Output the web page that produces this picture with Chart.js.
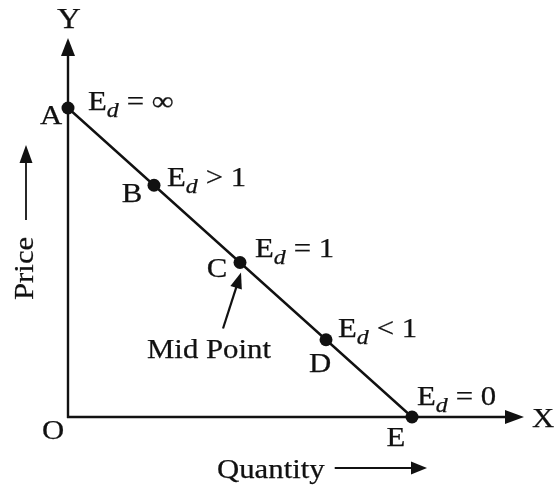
<!DOCTYPE html>
<html>
<head>
<meta charset="utf-8">
<script src="https://cdn.jsdelivr.net/npm/chart.js@4/dist/chart.umd.min.js"></script>
<style>
  html, body { margin: 0; padding: 0; background: #fff; }
  canvas { display: block; }
</style>
</head>
<body>
<canvas id="myChart" width="556" height="486"></canvas>
<script>
// demand line points A..E
const pointNames = ['A', 'B', 'C', 'D', 'E'];
const quantity = [0, 1, 2, 3, 4];
const price = [4, 3, 2, 1, 0];
const elasticity = ['= \u221E', '> 1', '= 1', '< 1', '= 0'];

const INK = '#111';
const SERIF = '"Liberation Serif", "Times New Roman", serif';
const HS = 1.14; // horizontal stretch of the lettering

// where each letter / E_d label sits relative to its point
const letterOffset = [[-17, 16], [-22, 17], [-23, 15], [-6, 32], [-16, 29]];
const edOffset = [[20, 2], [13, 1], [15, -5], [12, -3], [5, -12]];

function drawText(ctx, text, x, y, font, align) {
    ctx.font = font;
    const w = ctx.measureText(text).width * HS;
    let x0 = x;
    if (align === 'center') x0 = x - w / 2;
    ctx.save();
    ctx.translate(x0, y);
    ctx.scale(HS, 1);
    ctx.textAlign = 'left';
    ctx.textBaseline = 'alphabetic';
    ctx.lineWidth = 0.25;
    ctx.lineJoin = 'round';
    ctx.fillText(text, 0, 0);
    ctx.strokeText(text, 0, 0);
    ctx.restore();
    return w;
}

function arrowHead(ctx, tx, ty, angle, len, half) {
    ctx.save();
    ctx.translate(tx, ty);
    ctx.rotate(angle);
    ctx.beginPath();
    ctx.moveTo(0, 0);
    ctx.lineTo(-len, -half);
    ctx.lineTo(-len, half);
    ctx.closePath();
    ctx.fill();
    ctx.restore();
}

function arrow(ctx, x1, y1, x2, y2, len, half, width) {
    const a = Math.atan2(y2 - y1, x2 - x1);
    ctx.lineWidth = width;
    ctx.beginPath();
    ctx.moveTo(x1, y1);
    ctx.lineTo(x2 - Math.cos(a) * (len - 2), y2 - Math.sin(a) * (len - 2));
    ctx.stroke();
    arrowHead(ctx, x2, y2, a, len, half);
}

const diagram = {
    id: 'diagram',
    beforeDraw(chart) {
        const ctx = chart.ctx;
        ctx.save();
        ctx.fillStyle = '#fff';
        ctx.fillRect(0, 0, chart.width, chart.height);
        ctx.restore();
    },
    beforeDatasetsDraw(chart) {
        const {ctx, chartArea: ca, scales: {x, y}} = chart;
        const ox = x.getPixelForValue(0);
        const oy = y.getPixelForValue(0);
        ctx.save();
        ctx.strokeStyle = INK;
        ctx.fillStyle = INK;
        arrow(ctx, ox, oy + 1, ox, ca.top, 18, 7, 2.4);
        arrow(ctx, ox - 1, oy, ca.right, oy, 19, 7, 2.4);
        ctx.restore();
    },
    afterDatasetsDraw(chart) {
        const {ctx, chartArea: ca, scales: {x, y}} = chart;
        const ox = x.getPixelForValue(0);
        const oy = y.getPixelForValue(0);
        const big = '27px ' + SERIF;
        ctx.save();
        ctx.fillStyle = INK;
        ctx.strokeStyle = INK;

        // axis letters
        drawText(ctx, 'Y', ox + 1, ca.top - 10, '29px ' + SERIF, 'center');
        drawText(ctx, 'X', ca.right + 19, oy + 10, big, 'center');
        drawText(ctx, 'O', ox - 15, oy + 22, big, 'center');

        pointNames.forEach((name, i) => {
            const px = x.getPixelForValue(quantity[i]);
            const py = y.getPixelForValue(price[i]);
            drawText(ctx, name, px + letterOffset[i][0], py + letterOffset[i][1], big, 'center');
            let cx = px + edOffset[i][0];
            const by = py + edOffset[i][1];
            cx += drawText(ctx, 'E', cx, by, big);
            cx += drawText(ctx, 'd', cx, by + 7, 'italic 21px ' + SERIF) + 8;
            drawText(ctx, elasticity[i], cx, by, big);
        });

        // mid point callout
        const mx = x.getPixelForValue(quantity[2]);
        const my = y.getPixelForValue(price[2]);
        arrow(ctx, mx - 17, my + 66, mx + 1, my + 10, 16, 6, 2.2);
        drawText(ctx, 'Mid Point', 147, 358, big);

        // axis titles
        const qw = drawText(ctx, 'Quantity', 217, 478, big);
        arrow(ctx, 217 + qw + 10, 468, 427, 468, 16, 6.5, 1.8);

        ctx.save();
        ctx.translate(33, 300);
        ctx.rotate(-Math.PI / 2);
        drawText(ctx, 'Price', 0, 0, big);
        ctx.restore();
        arrow(ctx, 26, 220, 26, 145, 18, 6.5, 1.8);

        ctx.restore();
    }
};

const data = {
    datasets: [
        {
            label: 'Demand',
            data: quantity.map((q, i) => ({x: q, y: price[i]})),
            borderColor: INK,
            borderWidth: 2.4,
            pointRadius: 6.5,
            pointBackgroundColor: INK,
            pointBorderColor: INK,
            pointBorderWidth: 0,
            tension: 0,
            clip: false
        }
    ]
};

const ctx = document.getElementById('myChart').getContext('2d');
const myChart = new Chart(ctx, {
    type: 'line',
    data: data,
    options: {
        responsive: false,
        animation: false,
        layout: {
            padding: {left: 68, right: 32, top: 38, bottom: 69}
        },
        scales: {
            x: {type: 'linear', min: 0, max: 5.302, display: false},
            y: {type: 'linear', min: 0, max: 4.906, display: false}
        },
        plugins: {
            legend: {display: false},
            tooltip: {enabled: false}
        }
    },
    plugins: [diagram]
});
</script>
</body>
</html>
